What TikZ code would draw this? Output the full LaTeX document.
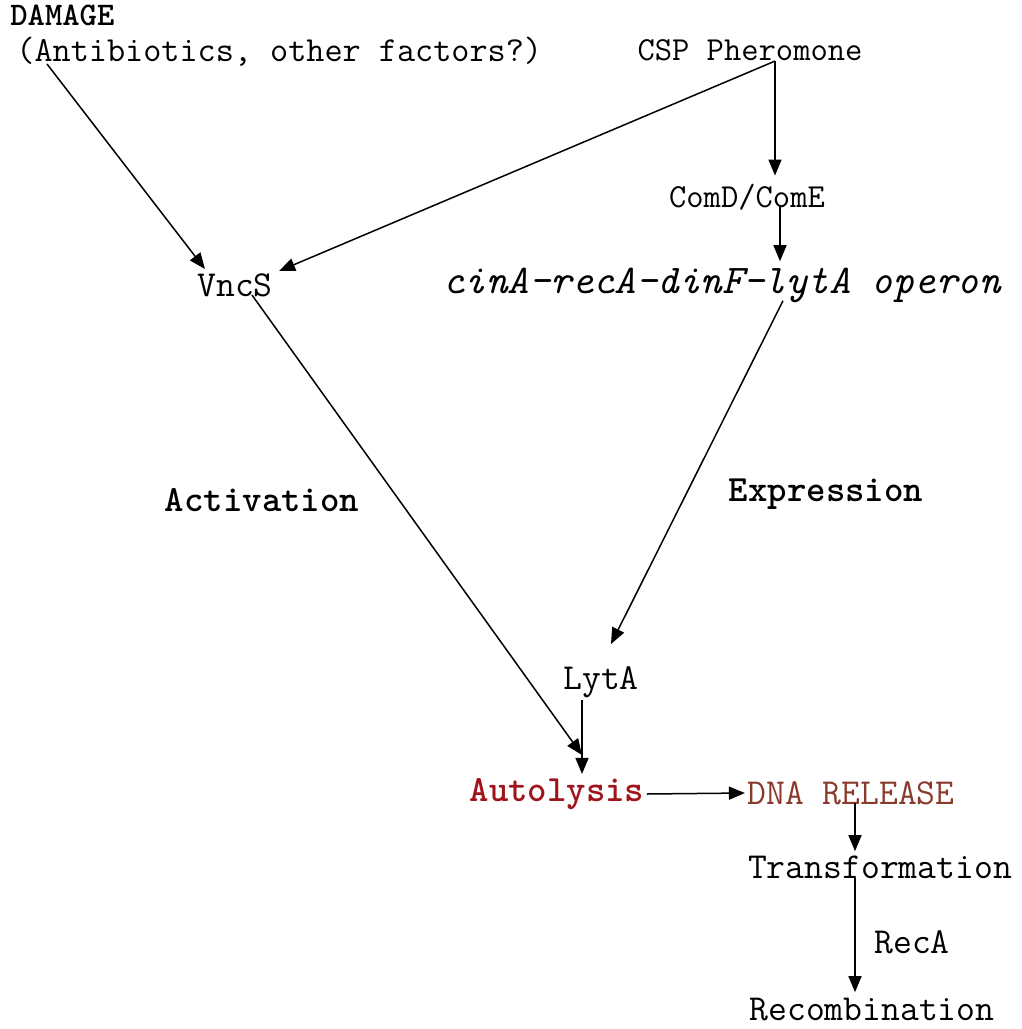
\documentclass[tikz,border=0pt]{standalone}
\usetikzlibrary{positioning, arrows.meta, calc}

\definecolor{autored}{HTML}{A0141C}
\definecolor{dnabrown}{HTML}{8A3A2C}

\tikzset{
  lbl/.style={inner sep=1pt, font=\ttfamily\fontsize{18.3}{21}\selectfont},
  small/.style={inner sep=1pt, font=\ttfamily\fontsize{16.8}{19}\selectfont},
  heavy/.style={inner sep=1pt, font=\ttfamily\bfseries\fontsize{18.5}{21}\selectfont},
  arr/.style={-{Triangle[length=8pt,width=6.5pt]}, line width=0.75pt},
}

\begin{document}
\begin{tikzpicture}[x=0.5pt, y=-0.5pt]
\useasboundingbox (0,0) rectangle (1022,1029);

% sources
\node[heavy, anchor=west, font=\ttfamily\bfseries\fontsize{16.5}{19}\selectfont] (damage) at (8,15) {DAMAGE};
\node[lbl, anchor=west, font=\ttfamily\fontsize{17.6}{20}\selectfont] (anti) at (14,52) {(Antibiotics, other factors?)};
\node[small] (csp) at (750,50) {CSP Pheromone};
\node[small] (comd) at (747,197) {ComD/ComE};

% middle row
\node[lbl] (vncs) at (235,285) {VncS};
\node[lbl, font=\ttfamily\itshape\fontsize{20.4}{23}\selectfont] (operon) at (722,285) {cinA-recA-dinF-lytA operon};
\node[heavy] (activ) at (262,500) {Activation};
\node[heavy] (expr) at (826,494) {Expression};

% lower part
\node[lbl] (lyta) at (601,682) {LytA};
\node[heavy, text=autored] (auto) at (557,794) {Autolysis};
\node[lbl, text=dnabrown] (dna) at (851,793) {DNA RELEASE};
\node[lbl] (trans) at (880,867) {Transformation};
\node[lbl] (reca) at (912,942) {RecA};
\node[lbl, inner sep=0pt] (recomb) at (872,1010) {Recombination};

% connector ends
\coordinate (dstart) at ($(anti.west)+(33,12)$);
\coordinate (cspfoot) at ($(csp.south)+(25,-2)$);
\coordinate (joint) at ($(lyta.south)+(-19,55)$);

\draw[arr] (dstart) -- ($(vncs.north west)+(10,-2)$);
\draw[arr] (cspfoot) -- ($(comd.north)+(28,-6)$);
\draw[arr] (cspfoot) -- ($(vncs.north east)+(4,0)$);
\draw[arr] ($(comd.south)+(33,-6)$) -- ($(operon.north)+(58,-4)$);
\draw[arr] ($(operon.south)+(61,-4)$) -- ($(lyta.north)+(10,-20)$);
\draw[arr] ($(vncs.south)+(17,-4)$) -- (joint);
\draw[arr] ($(lyta.south)+(-19,0)$) -- ($(auto.north)+(25,-2)$);
\draw[arr] (auto.east) -- (dna.west);
\draw[arr] ($(dna.south)+(4,-4)$) -- ($(trans.north)+(-25,-2)$);
\draw[arr] ($(trans.south)+(-25,-3)$) -- ($(recomb.north)+(-17,-6)$);
\end{tikzpicture}
\end{document}
